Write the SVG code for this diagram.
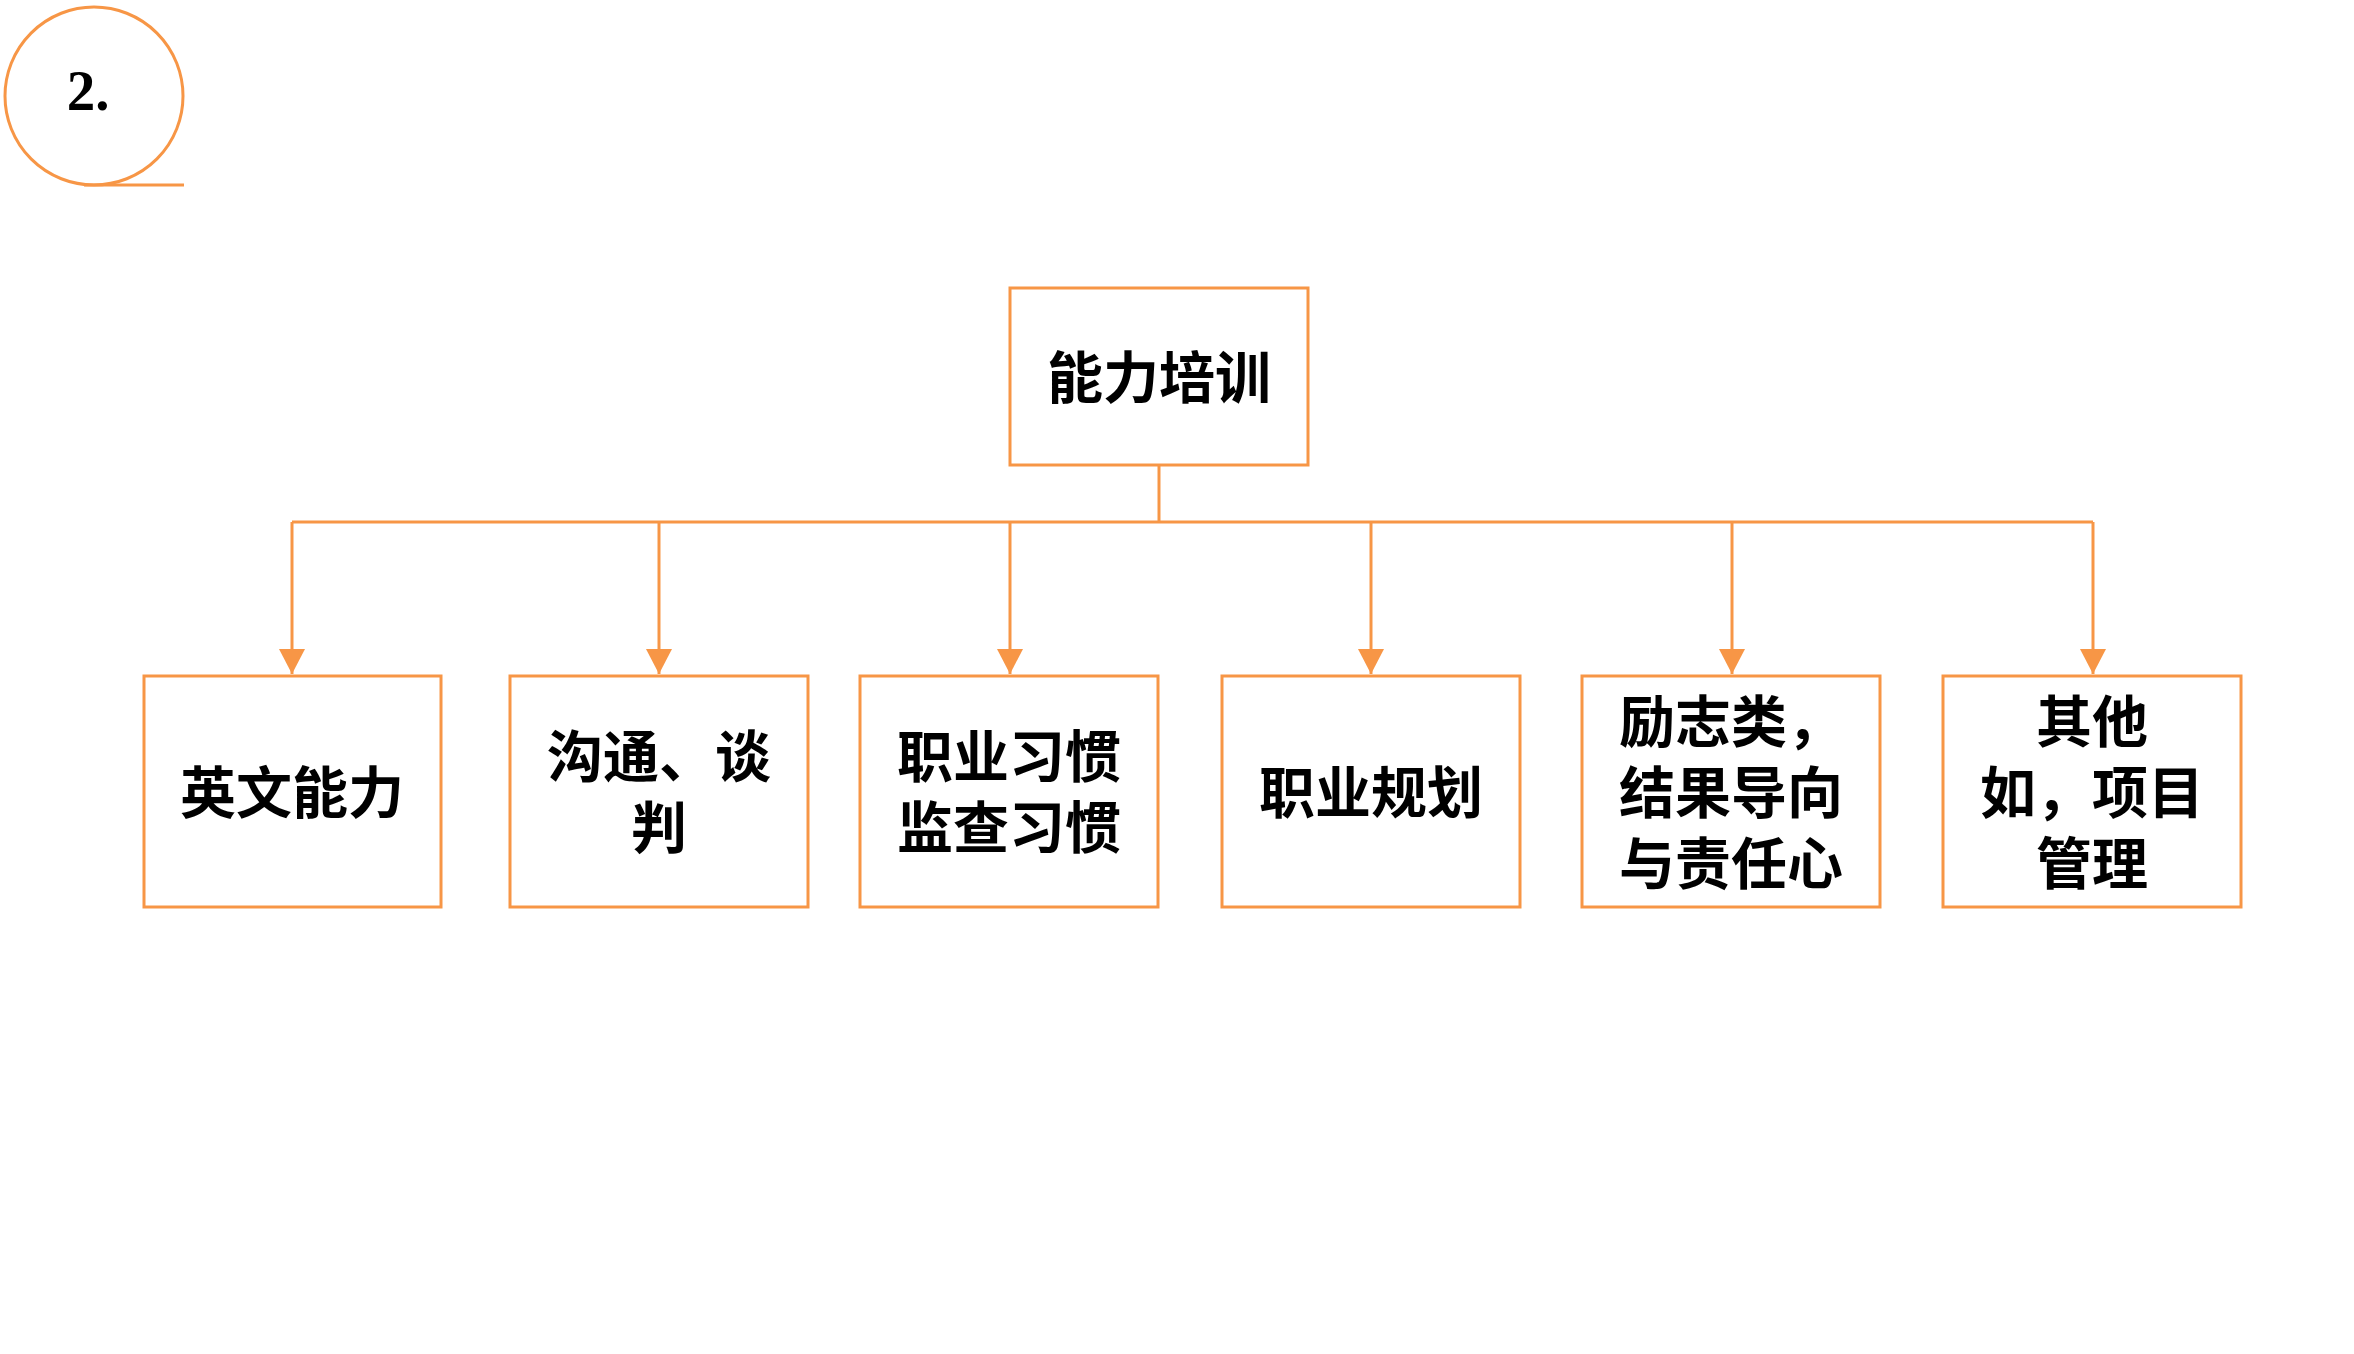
<svg xmlns="http://www.w3.org/2000/svg" width="2354" height="1354" viewBox="0 0 2354 1354">
<style>
.box{fill:#fff;stroke:#F79646;stroke-width:3}
.ln{fill:none;stroke:#F79646;stroke-width:3}
.t{font-family:"Noto Sans CJK SC","Noto Sans CJK JP",sans-serif;font-size:56px;font-weight:bold;fill:#000;text-anchor:middle;dominant-baseline:central}
</style>
<defs>
<marker id="arr" markerUnits="userSpaceOnUse" markerWidth="26" markerHeight="26" refX="25" refY="13" orient="auto">
<path d="M0,0 L25,13 L0,26 Z" fill="#F79646"/>
</marker>
</defs>
<rect width="2354" height="1354" fill="#fff"/>
<g id="badge">
<circle cx="94" cy="96" r="89" fill="none" stroke="#F79646" stroke-width="3"/>
<line x1="84" y1="185" x2="184" y2="185" stroke="#F79646" stroke-width="3"/>
<text x="88" y="110" font-family="Liberation Serif, serif" font-size="57" font-weight="bold" text-anchor="middle">2.</text>
</g>
<g id="connectors">
<path class="ln" d="M1159,465 V522"/>
<path class="ln" d="M292,522 H2093"/>
<path class="ln" d="M292,522 V674" marker-end="url(#arr)"/>
<path class="ln" d="M659,522 V674" marker-end="url(#arr)"/>
<path class="ln" d="M1010,522 V674" marker-end="url(#arr)"/>
<path class="ln" d="M1371,522 V674" marker-end="url(#arr)"/>
<path class="ln" d="M1732,522 V674" marker-end="url(#arr)"/>
<path class="ln" d="M2093,522 V674" marker-end="url(#arr)"/>
</g>
<g id="root">
<rect class="box" x="1010" y="288" width="298" height="177"/>
<text class="t" x="1159" y="373">能力培训</text>
</g>
<g id="n1">
<rect class="box" x="144" y="676" width="297" height="231"/>
<text class="t" x="292" y="788">英文能力</text>
</g>
<g id="n2">
<rect class="box" x="510" y="676" width="298" height="231"/>
<text class="t" x="659" y="752">沟通、谈<tspan x="659" dy="71">判</tspan></text>
</g>
<g id="n3">
<rect class="box" x="860" y="676" width="298" height="231"/>
<text class="t" x="1009" y="752">职业习惯<tspan x="1009" dy="71">监查习惯</tspan></text>
</g>
<g id="n4">
<rect class="box" x="1222" y="676" width="298" height="231"/>
<text class="t" x="1371" y="788">职业规划</text>
</g>
<g id="n5">
<rect class="box" x="1582" y="676" width="298" height="231"/>
<text class="t" x="1731" y="717">励志类，<tspan x="1731" dy="71">结果导向</tspan><tspan x="1731" dy="71">与责任心</tspan></text>
</g>
<g id="n6">
<rect class="box" x="1943" y="676" width="298" height="231"/>
<text class="t" x="2092" y="717">其他<tspan x="2092" dy="71">如，项目</tspan><tspan x="2092" dy="71">管理</tspan></text>
</g>
</svg>
